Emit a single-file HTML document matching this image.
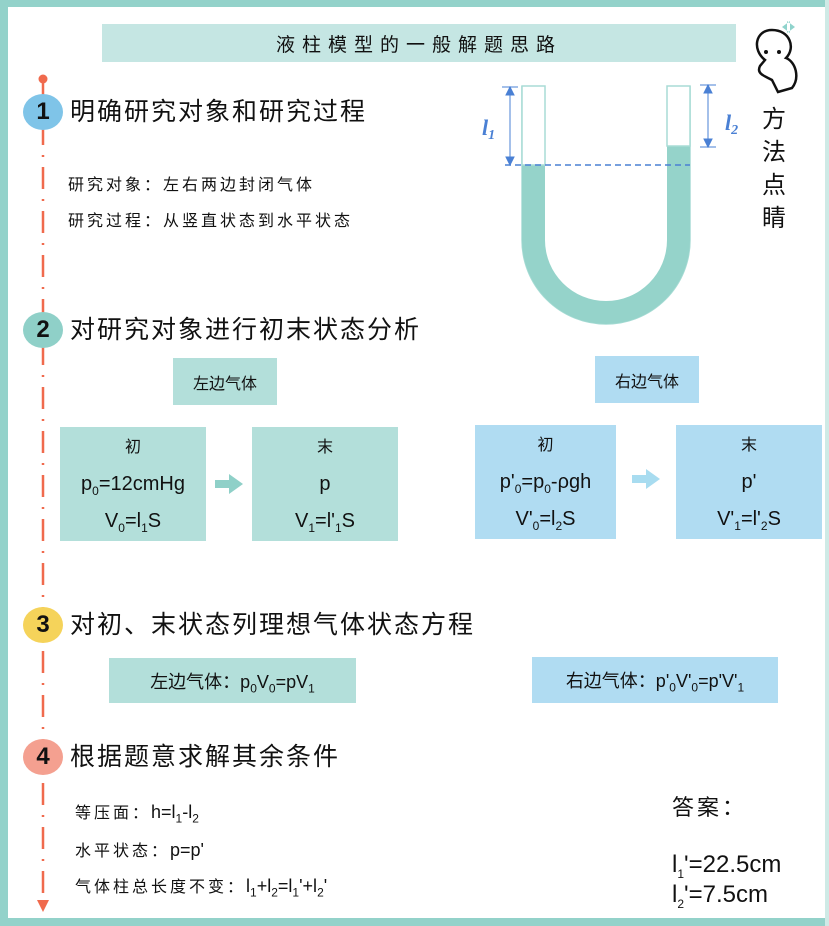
<!DOCTYPE html>
<html><head><meta charset="utf-8"><style>
body{margin:0;width:829px;height:926px;position:relative;background:#fff;overflow:hidden;font-family:"Liberation Sans","Noto Sans CJK SC",sans-serif;color:#111}
.a{position:absolute}
sub{line-height:0;font-size:12px}
.box{position:absolute;display:flex;align-items:center;justify-content:center;text-align:center}
.h{position:absolute;font-size:25px;left:70px;line-height:30px;letter-spacing:2px;white-space:nowrap}
.c{position:absolute;width:40px;height:36px;border-radius:50%;font:bold 24px "Liberation Sans",sans-serif;display:flex;align-items:center;justify-content:center;left:23px}
.t{position:absolute;font-size:16px;line-height:20px;letter-spacing:3px;white-space:nowrap}
.f{letter-spacing:0;font-size:18px}
.g{background:#b3dfda}.b{background:#b0dcf2}
.big{font-size:20px;line-height:37px}
</style></head><body>
<div class="a" style="left:0;top:0;width:829px;height:7px;background:#93d2ca"></div>
<div class="a" style="left:0;top:0;width:8px;height:926px;background:#93d2ca"></div>
<div class="a" style="left:0;top:918px;width:829px;height:8px;background:#93d2ca"></div>
<div class="a" style="left:825px;top:0;width:4px;height:926px;background:#cfeae6"></div>

<div class="box" style="left:102px;top:24px;width:634px;height:38px;background:#c5e6e3;font-size:19px;letter-spacing:7px">液柱模型的一般解题思路</div>

<svg class="a" style="left:0;top:0" width="829" height="926">
<circle cx="43" cy="79" r="4.5" fill="#f06a4d"/>
<line x1="43" y1="79" x2="43" y2="905" stroke="#f06a4d" stroke-width="2.5" stroke-dasharray="22,10,2,10"/>
<polygon points="37,900 49,900 43,912" fill="#f06a4d"/>
<path d="M522,86 V240 A84,84 0 0 0 690,240 V86" fill="none" stroke="#a8dcd5" stroke-width="1.5"/>
<path d="M522,165 V240 A84,84 0 0 0 690,240 V146 H667 V240 A61,61 0 0 1 545,240 V165 Z" fill="#95d3ca"/>
<rect x="522" y="86" width="23" height="79" fill="#fff" stroke="#a8dcd5" stroke-width="1.5"/>
<rect x="667" y="86" width="23" height="60" fill="#fff" stroke="#a8dcd5" stroke-width="1.5"/>
<line x1="505" y1="165" x2="690" y2="165" stroke="#4a80d4" stroke-width="1.5" stroke-dasharray="6,4"/>
<g stroke="#4a80d4" stroke-width="1" fill="#4a80d4">
<line x1="502" y1="87" x2="518" y2="87"/><line x1="510" y1="87" x2="510" y2="165"/>
<polygon points="506,95 514,95 510,87"/><polygon points="506,157 514,157 510,165"/>
<line x1="700" y1="85" x2="716" y2="85"/><line x1="700" y1="147" x2="716" y2="147"/><line x1="708" y1="85" x2="708" y2="147"/>
<polygon points="704,93 712,93 708,85"/><polygon points="704,139 712,139 708,147"/>
</g>
<text x="482" y="135" font-family="Liberation Serif" font-style="italic" font-weight="bold" font-size="22" fill="#4a80d4">l<tspan font-size="14" dy="4">1</tspan></text>
<text x="725" y="130" font-family="Liberation Serif" font-style="italic" font-weight="bold" font-size="22" fill="#4a80d4">l<tspan font-size="14" dy="4">2</tspan></text>
<path d="M765,60 C752,50 755,30 772,30 C790,30 796,48 786,58 C796,62 800,78 792,88 L778,92 L772,80 C765,76 756,74 760,66 Z" fill="#fff" stroke="#111" stroke-width="2.5"/>
<circle cx="766" cy="52" r="2" fill="#111"/><circle cx="779" cy="52" r="2" fill="#111"/>
<path d="M782,27 L790,21 L790,33 Z M795,27 L787,21 L787,33 Z" fill="#8fd3cc"/>
<rect x="215" y="480" width="15" height="8" fill="#8fd0c8"/><polygon points="229,474 243,484 229,494" fill="#8fd0c8"/>
<rect x="632" y="475" width="15" height="8" fill="#a8dcf0"/><polygon points="646,469 660,479 646,489" fill="#a8dcf0"/>
</svg>
<div class="a" style="left:762px;top:100px;width:26px;font-size:24px;line-height:33px;font-family:'Noto Sans CJK SC',sans-serif">方法点睛</div>

<div class="c" style="top:94px;background:#7fc4e8">1</div>
<div class="h" style="top:97px">明确研究对象和研究过程</div>
<div class="t" style="left:68px;top:176px">研究对象：左右两边封闭气体</div>
<div class="t" style="left:68px;top:212px">研究过程：从竖直状态到水平状态</div>

<div class="c" style="top:312px;background:#8fd0c8">2</div>
<div class="h" style="top:315px">对研究对象进行初末状态分析</div>
<div class="box g" style="left:173px;top:358px;width:104px;height:47px;font-size:16px">左边气体</div>
<div class="box g big" style="left:60px;top:427px;width:146px;height:114px"><div><span style="font-size:16px">初</span><br>p<sub>0</sub>=12cmHg<br>V<sub>0</sub>=l<sub>1</sub>S</div></div>
<div class="box g big" style="left:252px;top:427px;width:146px;height:114px"><div><span style="font-size:16px">末</span><br>p<br>V<sub>1</sub>=l'<sub>1</sub>S</div></div>
<div class="box b" style="left:595px;top:356px;width:104px;height:47px;font-size:16px">右边气体</div>
<div class="box b big" style="left:475px;top:425px;width:141px;height:114px"><div><span style="font-size:16px">初</span><br>p'<sub>0</sub>=p<sub>0</sub>-ρgh<br>V'<sub>0</sub>=l<sub>2</sub>S</div></div>
<div class="box b big" style="left:676px;top:425px;width:146px;height:114px"><div><span style="font-size:16px">末</span><br>p'<br>V'<sub>1</sub>=l'<sub>2</sub>S</div></div>

<div class="c" style="top:607px;background:#f5d35a">3</div>
<div class="h" style="top:610px">对初、末状态列理想气体状态方程</div>
<div class="box g" style="left:109px;top:658px;width:247px;height:45px;font-size:18px"><span>左边气体：p<sub>0</sub>V<sub>0</sub>=pV<sub>1</sub></span></div>
<div class="box b" style="left:532px;top:657px;width:246px;height:46px;font-size:18px"><span>右边气体：p'<sub>0</sub>V'<sub>0</sub>=p'V'<sub>1</sub></span></div>

<div class="c" style="top:739px;background:#f4a090">4</div>
<div class="h" style="top:742px">根据题意求解其余条件</div>
<div class="t" style="left:75px;top:802px">等压面：<span class="f">h=l<sub>1</sub>-l<sub>2</sub></span></div>
<div class="t" style="left:75px;top:840px">水平状态：<span class="f">p=p'</span></div>
<div class="t" style="left:75px;top:876px">气体柱总长度不变：<span class="f">l<sub>1</sub>+l<sub>2</sub>=l<sub>1</sub>'+l<sub>2</sub>'</span></div>

<div class="a" style="left:672px;top:790px;font-size:22px;letter-spacing:3px">答案：</div>
<div class="a" style="left:672px;top:850px;font-size:24px;line-height:30px">l<sub>1</sub>'=22.5cm<br>l<sub>2</sub>'=7.5cm</div>
</body></html>
